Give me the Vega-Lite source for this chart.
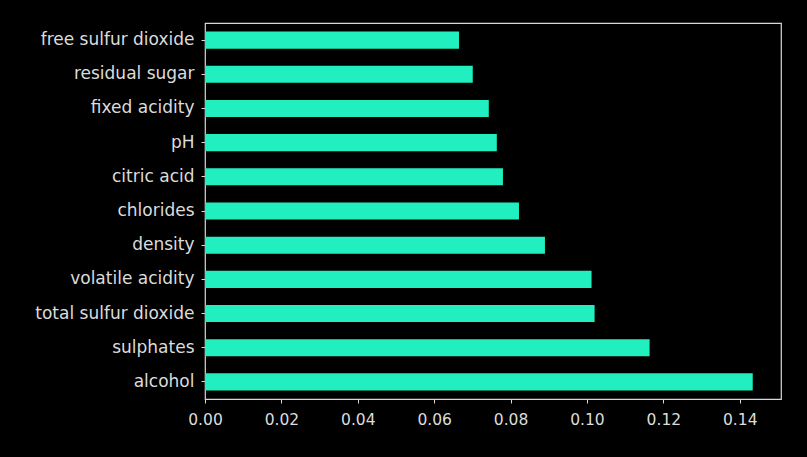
{
  "$schema": "https://vega.github.io/schema/vega-lite/v6.json",
  "width": 576,
  "height": 376,
  "autosize": {"type": "none"},
  "padding": {"left": 205, "top": 23, "right": 26, "bottom": 58},
  "background": "#000000",
  "data": {"values": [
    {"feature": "free sulfur dioxide", "importance": 0.0665},
    {"feature": "residual sugar", "importance": 0.0701},
    {"feature": "fixed acidity", "importance": 0.0743},
    {"feature": "pH", "importance": 0.0764},
    {"feature": "citric acid", "importance": 0.0780},
    {"feature": "chlorides", "importance": 0.0822},
    {"feature": "density", "importance": 0.0890},
    {"feature": "volatile acidity", "importance": 0.1012},
    {"feature": "total sulfur dioxide", "importance": 0.1020},
    {"feature": "sulphates", "importance": 0.1164},
    {"feature": "alcohol", "importance": 0.1434}
  ]},
  "config": {
    "view": {"stroke": "#d8d8d8", "strokeWidth": 1.2},
    "axis": {
      "domain": false,
      "grid": false,
      "tickColor": "#d8d8d8",
      "tickSize": 4,
      "labelColor": "#dcdcdc",
      "labelFont": "DejaVu Sans",
      "title": null
    }
  },
  "mark": {"type": "bar", "color": "#22efc0"},
  "encoding": {
    "y": {
      "field": "feature",
      "type": "nominal",
      "sort": {"field": "importance", "order": "ascending"},
      "scale": {"paddingInner": 0.5, "paddingOuter": 0.25},
      "axis": {"labelPadding": 7, "labelFontSize": 17}
    },
    "x": {
      "field": "importance",
      "type": "quantitative",
      "scale": {"domain": [0, 0.1508], "nice": false},
      "axis": {"values": [0, 0.02, 0.04, 0.06, 0.08, 0.1, 0.12, 0.14], "format": ".2f", "labelPadding": 9, "labelFontSize": 15.5, "labelFlush": false}
    }
  }
}
